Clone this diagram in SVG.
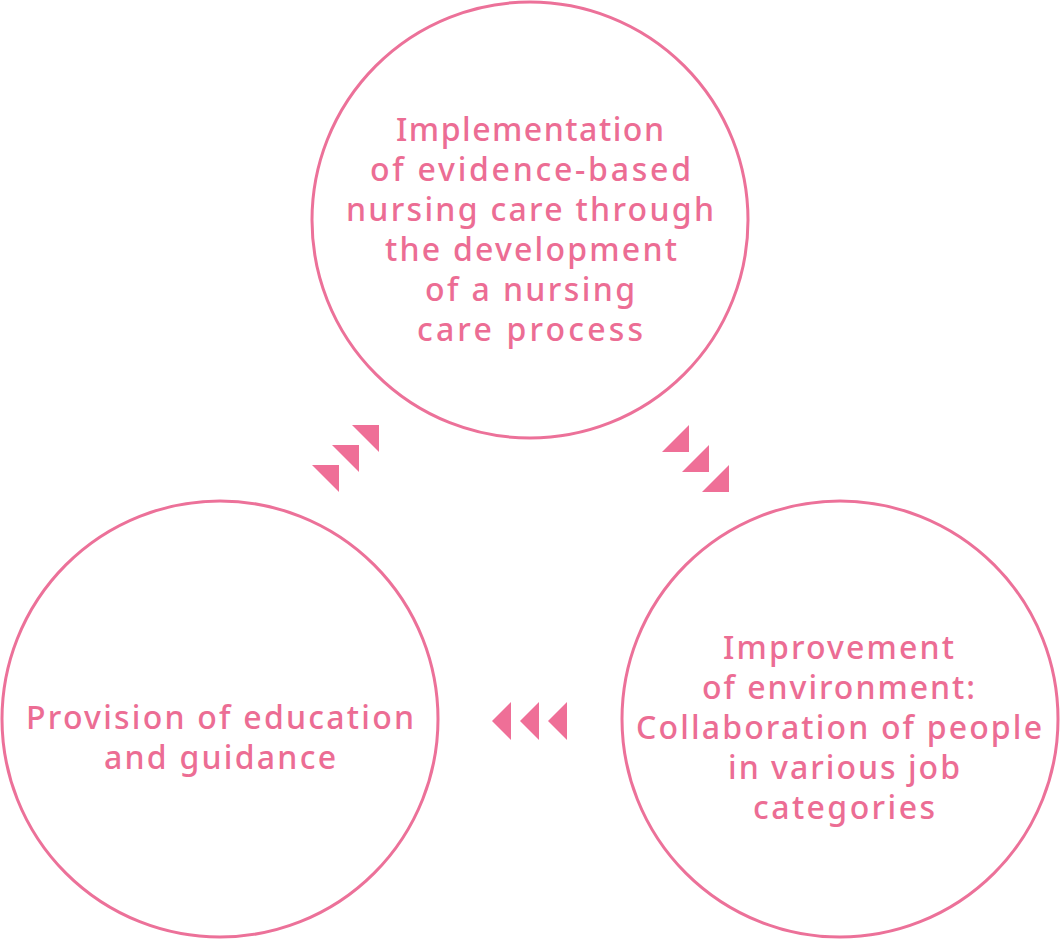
<svg xmlns="http://www.w3.org/2000/svg" width="1060" height="940" viewBox="0 0 1060 940">
<style>
.c{fill:#fff;stroke:#ec7199;stroke-width:3}
.t{font-family:"Noto Sans","Liberation Sans",sans-serif;font-size:32px;font-weight:500;fill:#ec6d94;text-anchor:middle}
.a{fill:#ef6f97}
</style>
<rect width="1060" height="940" fill="#fff"/>
<g id="node-top">
<circle class="c" cx="530" cy="220" r="218"/>
<text class="t" x="530" y="141" textLength="268" lengthAdjust="spacing">Implementation</text>
<text class="t" x="530.5" y="181" textLength="321" lengthAdjust="spacing">of evidence-based</text>
<text class="t" x="530" y="221" textLength="368" lengthAdjust="spacing">nursing care through</text>
<text class="t" x="531" y="261" textLength="292" lengthAdjust="spacing">the development</text>
<text class="t" x="530" y="301" textLength="210" lengthAdjust="spacing">of a nursing</text>
<text class="t" x="530" y="341" textLength="226" lengthAdjust="spacing">care process</text>
</g>
<g id="node-left">
<circle class="c" cx="220" cy="719" r="218"/>
<text class="t" x="220" y="729" textLength="388" lengthAdjust="spacing">Provision of education</text>
<text class="t" x="220" y="769" textLength="232" lengthAdjust="spacing">and guidance</text>
</g>
<g id="node-right">
<circle class="c" cx="840" cy="719" r="218"/>
<text class="t" x="838.5" y="659" textLength="231" lengthAdjust="spacing">Improvement</text>
<text class="t" x="838.5" y="699" textLength="273" lengthAdjust="spacing">of environment:</text>
<text class="t" x="839" y="739" textLength="406" lengthAdjust="spacing">Collaboration of people</text>
<text class="t" x="844" y="779" textLength="232" lengthAdjust="spacing">in various job</text>
<text class="t" x="844" y="819" textLength="182" lengthAdjust="spacing">categories</text>
</g>
<g id="connectors">
<polygon class="a" points="352,425 379,425 379,452"/>
<polygon class="a" points="332,445 359,445 359,472"/>
<polygon class="a" points="312,465 339,465 339,492"/>
<polygon class="a" points="662,452 689,425 689,452"/>
<polygon class="a" points="682,472 709,445 709,472"/>
<polygon class="a" points="702,492 729,465 729,492"/>
<polygon class="a" points="492,721 511,702 511,740"/>
<polygon class="a" points="520,721 539,702 539,740"/>
<polygon class="a" points="548,721 567,702 567,740"/>
</g>
</svg>
